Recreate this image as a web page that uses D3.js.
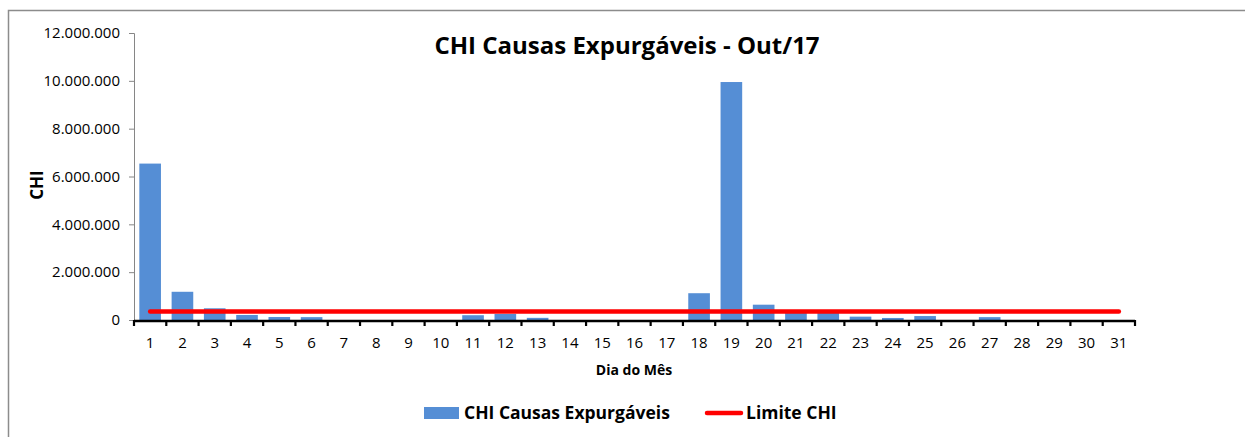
<!DOCTYPE html>
<html>
<head>
<meta charset="utf-8">
<script src="https://cdn.jsdelivr.net/npm/d3@7"></script>
<style>
  html, body { margin: 0; padding: 0; background: #fff; }
  svg { display: block; }
</style>
</head>
<body>
<div id="chart"></div>
<script>
const days = d3.range(1, 32).map(String);
const chiValues = [
  6540000, 1180000, 490000, 210000, 125000, 120000, 0, 0, 0, 0,
  200000, 250000, 90000, 0, 0, 0, 0, 1120000, 9950000, 640000,
  300000, 300000, 140000, 85000, 165000, 0, 120000, 0, 0, 0, 0
];
const limitValue = 360000;
const yTicks = [0, 2000000, 4000000, 6000000, 8000000, 10000000, 12000000];
const titleText = "CHI Causas Expurgáveis - Out/17";
const xTitle = "Dia do Mês";
const yTitle = "CHI";
const seriesNames = ["CHI Causas Expurgáveis", "Limite CHI"];

const W = 1245, H = 437;
const font = "'Open Sans', 'Noto Sans', sans-serif";
const barColor = "#558ed5";
const lineColor = "#ff0000";

const svg = d3.select("#chart").append("svg")
  .attr("width", W).attr("height", H)
  .style("font-family", font);

// outer chart frame
svg.append("rect")
  .attr("x", 8.5).attr("y", 10.5)
  .attr("width", 1300).attr("height", 500)
  .attr("fill", "#fff").attr("stroke", "#8c8c8c").attr("stroke-width", 1.5);

const plot = { left: 134, right: 1135, top: 33, bottom: 320 };

const x = d3.scaleBand().domain(days)
  .range([plot.left, plot.right])
  .paddingInner(0.33).paddingOuter(0.165);

const y = d3.scaleLinear().domain([0, 12000000]).range([plot.bottom, plot.top]);

const fmt = v => d3.format(",")(v).replace(/,/g, ".");

// Y axis
const yAxis = svg.append("g")
  .attr("transform", `translate(${plot.left},0)`)
  .call(d3.axisLeft(y).tickValues(yTicks).tickFormat(fmt).tickSize(5).tickPadding(9));
yAxis.select(".domain").attr("stroke", "#868686");
yAxis.selectAll(".tick line").attr("stroke", "#868686");
yAxis.selectAll(".tick text").attr("fill", "#000").style("font-size", "15px").style("font-family", font);

// Bars
svg.append("g").selectAll("rect")
  .data(days.map((d, i) => ({ day: d, value: chiValues[i] })))
  .join("rect")
  .attr("x", d => x(d.day))
  .attr("width", x.bandwidth())
  .attr("y", d => y(d.value))
  .attr("height", d => y(0) - y(d.value))
  .attr("fill", barColor);

// X axis labels
const xAxis = svg.append("g")
  .attr("transform", `translate(0,${plot.bottom})`)
  .call(d3.axisBottom(x).tickSize(0).tickPadding(17));
xAxis.select(".domain").remove();
xAxis.selectAll(".tick text").attr("fill", "#000").style("font-size", "15px").style("font-family", font);

// X axis line with boundary ticks
const gap = x.step() - x.bandwidth();
const boundaries = days.map(d => x(d) - gap / 2).concat([x(days[days.length - 1]) + x.bandwidth() + gap / 2]);
const axisG = svg.append("g");
axisG.append("line")
  .attr("x1", boundaries[0]).attr("x2", boundaries[boundaries.length - 1])
  .attr("y1", plot.bottom + 1).attr("y2", plot.bottom + 1)
  .attr("stroke", "#000").attr("stroke-width", 2.5);
axisG.selectAll("line.bt").data(boundaries).join("line")
  .attr("class", "bt")
  .attr("x1", d => d).attr("x2", d => d)
  .attr("y1", plot.bottom).attr("y2", plot.bottom + 6)
  .attr("stroke", "#000").attr("stroke-width", 2.2);

// Limit line
const line = d3.line()
  .x(d => x(d) + x.bandwidth() / 2)
  .y(() => y(limitValue));
svg.append("path")
  .datum(days)
  .attr("d", line)
  .attr("fill", "none")
  .attr("stroke", lineColor)
  .attr("stroke-width", 4.5)
  .attr("stroke-linecap", "round");

// Title
svg.append("text")
  .attr("x", 627).attr("y", 54)
  .attr("text-anchor", "middle")
  .style("font-size", "24px").style("font-weight", "bold")
  .text(titleText);

// Axis titles
svg.append("text")
  .attr("x", 634).attr("y", 375)
  .attr("text-anchor", "middle")
  .style("font-size", "14px").style("font-weight", "bold")
  .text(xTitle);

svg.append("text")
  .attr("transform", "translate(43,185) rotate(-90)")
  .attr("text-anchor", "middle")
  .style("font-size", "17px").style("font-weight", "bold")
  .text(yTitle);

// Legend
const leg = svg.append("g");
leg.append("rect").attr("x", 424).attr("y", 407).attr("width", 35).attr("height", 12).attr("fill", barColor);
leg.append("text").attr("x", 464).attr("y", 419)
  .style("font-size", "17.5px").style("font-weight", "bold").text(seriesNames[0]);
leg.append("line").attr("x1", 707).attr("x2", 741).attr("y1", 413).attr("y2", 413)
  .attr("stroke", lineColor).attr("stroke-width", 4.5).attr("stroke-linecap", "round");
leg.append("text").attr("x", 746).attr("y", 419)
  .style("font-size", "17.5px").style("font-weight", "bold").text(seriesNames[1]);
</script>
</body>
</html>
